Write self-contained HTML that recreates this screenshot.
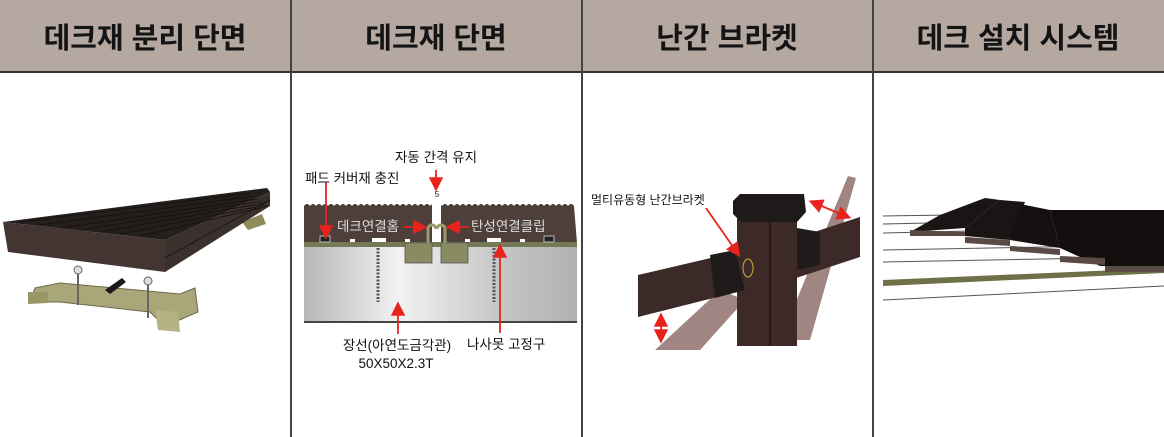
<!DOCTYPE html>
<html><head><meta charset="utf-8"><style>
html,body{margin:0;padding:0;background:#fff;}
body{width:1164px;height:437px;overflow:hidden;position:relative;font-family:"Liberation Sans","Noto Sans CJK KR",sans-serif;}
svg{position:absolute;left:0;top:0;}
.h{font-family:"Liberation Sans","Noto Sans CJK KR",sans-serif;font-weight:bold;font-size:29px;fill:#141414;}
.l{font-family:"Liberation Sans","Noto Sans CJK KR",sans-serif;font-size:13.5px;fill:#111;}
</style></head><body>
<svg width="1164" height="437" viewBox="0 0 1164 437">
<defs>
<linearGradient id="metal" x1="0" x2="1" y1="0" y2="0">
<stop offset="0" stop-color="#b8b8b8"/><stop offset="0.35" stop-color="#f2f2f2"/><stop offset="0.7" stop-color="#c8c8c8"/><stop offset="1" stop-color="#b0b0b0"/></linearGradient>
<marker id="ar" markerWidth="8" markerHeight="8" refX="6" refY="4" orient="auto"><path d="M0,0 L8,4 L0,8 z" fill="#e8231c"/></marker>
<marker id="as" markerWidth="8" markerHeight="8" refX="2" refY="4" orient="auto"><path d="M8,0 L0,4 L8,8 z" fill="#e8231c"/></marker>
</defs>
<rect x="0" y="0" width="1164" height="72" fill="#b4a8a1"/>
<line x1="0" y1="72" x2="1164" y2="72" stroke="#333" stroke-width="2"/>
<g stroke="#444" stroke-width="2"><line x1="291" y1="0" x2="291" y2="437"/><line x1="582" y1="0" x2="582" y2="437"/><line x1="873" y1="0" x2="873" y2="437"/></g>
<text class="h" x="145" y="48" text-anchor="middle">데크재 분리 단면</text>
<text class="h" x="436" y="48" text-anchor="middle">데크재 단면</text>
<text class="h" x="727" y="48" text-anchor="middle">난간 브라켓</text>
<text class="h" x="1018" y="48" text-anchor="middle">데크 설치 시스템</text>

<!-- col1 -->
<polygon points="242,222 262,214 266,224 248,230" fill="#8f8c5c"/>
<polygon points="3,222 267,188 270,192 165,240" fill="#241e1c"/>
<polygon points="165,240 270,192 270,206 165,272" fill="#3a302c"/>
<polygon points="3,222 165,240 165,272 8,252" fill="#433532"/>
<line x1="165" y1="258" x2="270" y2="200" stroke="#1c1615" stroke-width="1"/>
<g stroke="#15100f" stroke-width="0.8">
<line x1="20" y1="222" x2="250" y2="193"/><line x1="40" y1="225" x2="255" y2="196"/><line x1="60" y1="228" x2="258" y2="199"/><line x1="80" y1="230" x2="262" y2="201"/><line x1="100" y1="232" x2="264" y2="203"/><line x1="120" y1="234" x2="266" y2="205"/><line x1="140" y1="236" x2="268" y2="206"/></g>
<polygon points="35,288 60,283 180,294 195,288 198,312 175,322 160,322 150,312 60,302 30,302" fill="#a9a77a" stroke="#6b6946" stroke-width="1"/>
<polygon points="155,310 178,312 180,332 158,330" fill="#b5b286"/>
<polygon points="28,292 48,292 48,303 28,304" fill="#999766"/>
<polygon points="105,290 122,278 126,282 110,294" fill="#1e1a19"/>
<line x1="78" y1="268" x2="78" y2="305" stroke="#666" stroke-width="2"/><circle cx="78" cy="270" r="4" fill="#ddd" stroke="#666"/>
<line x1="148" y1="280" x2="148" y2="318" stroke="#666" stroke-width="2"/><circle cx="148" cy="281" r="4" fill="#ddd" stroke="#666"/>

<!-- col2 -->
<rect x="304" y="247" width="273" height="75" fill="url(#metal)"/>
<line x1="304" y1="322" x2="577" y2="322" stroke="#444" stroke-width="2"/>
<path d="M304,206 q3,-4 6,0 q3,-4 6,0 q3,-4 6,0 q3,-4 6,0 q3,-4 6,0 q3,-4 6,0 q3,-4 6,0 q3,-4 6,0 q3,-4 6,0 q3,-4 6,0 q3,-4 6,0 q3,-4 6,0 q3,-4 6,0 q3,-4 6,0 q3,-4 6,0 q3,-4 6,0 q3,-4 6,0 q3,-4 6,0 q3,-4 6,0 q3,-4 6,0 q3,-4 6,0 q3,-4 6,0 q3,-4 6,0 q3,-4 6,0 q3,-4 6,0 q3,-4 6,0 q3,-4 6,0 q3,-4 6,0 q3,-4 6,0 q3,-4 6,0 q3,-4 6,0 q3,-4 6,0 q3,-4 6,0 q3,-4 6,0 q3,-4 6,0 q3,-4 6,0 q3,-4 6,0 q3,-4 6,0 q3,-4 6,0 q3,-4 6,0 q3,-4 6,0 q3,-4 6,0 q3,-4 6,0 q3,-4 6,0 q3,-4 6,0 L577,243 L304,243 z" fill="#4e3f3b"/>
<rect x="432" y="200" width="9" height="44" fill="#fff"/>
<rect x="304" y="242" width="273" height="5" fill="#737a55"/>
<rect x="405" y="243" width="27" height="20" fill="#8a8b62" stroke="#555" stroke-width="0.8"/>
<rect x="441" y="243" width="27" height="20" fill="#8a8b62" stroke="#555" stroke-width="0.8"/>
<path d="M428,243 v-14 a4,4 0 0 1 8,0" fill="none" stroke="#9a9b6c" stroke-width="3"/>
<path d="M445,243 v-14 a4,4 0 0 0 -8,0" fill="none" stroke="#9a9b6c" stroke-width="3"/>
<g fill="#fff"><rect x="350" y="239" width="5" height="3"/><rect x="405" y="239" width="5" height="3"/><rect x="465" y="239" width="5" height="3"/><rect x="520" y="239" width="5" height="3"/><rect x="372" y="238" width="14" height="4"/><rect x="487" y="238" width="14" height="4"/></g>
<rect x="320" y="236" width="10" height="6" fill="#222" stroke="#bbb" stroke-width="1"/><rect x="544" y="236" width="10" height="6" fill="#222" stroke="#bbb" stroke-width="1"/>
<g stroke="#555" stroke-width="3" stroke-dasharray="2,1.5"><line x1="378" y1="248" x2="378" y2="302"/><line x1="494" y1="248" x2="494" y2="302"/></g>
<text class="l" x="436" y="162" text-anchor="middle">자동 간격 유지</text>
<text class="l" x="305" y="183">패드 커버재 충진</text>
<text class="l" x="337" y="231" style="fill:#ddd">데크연결홈</text>
<text class="l" x="471" y="231" style="fill:#ddd">탄성연결클립</text>
<text class="l" x="397" y="350" text-anchor="middle">장선(아연도금각관)</text>
<text class="l" x="396" y="368" text-anchor="middle">50X50X2.3T</text>
<text class="l" x="467" y="349">나사못 고정구</text>
<text x="437" y="197" font-size="8" text-anchor="middle" fill="#111" font-family="Liberation Sans">5</text>
<g stroke="#e8231c" stroke-width="1.8" fill="none">
<line x1="436" y1="170" x2="436" y2="188" marker-end="url(#ar)"/>
<polyline points="326,182 326,236" marker-end="url(#ar)"/>
<line x1="404" y1="227" x2="424" y2="227" marker-end="url(#ar)"/>
<line x1="469" y1="227" x2="449" y2="227" marker-end="url(#ar)"/>
<line x1="398" y1="334" x2="398" y2="305" marker-end="url(#ar)"/>
<line x1="500" y1="333" x2="500" y2="247" marker-end="url(#ar)"/>
</g>

<!-- col3 -->
<polygon points="780,340 810,340 856,178 848,176" fill="#a08583"/>
<polygon points="655,350 700,350 745,300 720,290" fill="#a08583"/>
<polygon points="638,275 745,250 745,290 638,317" fill="#3b2a27"/>
<polygon points="790,240 860,217 860,257 790,280" fill="#3b2a27"/>
<rect x="737" y="210" width="60" height="136" fill="#3d2a26"/>
<line x1="770" y1="215" x2="770" y2="346" stroke="#1e1413" stroke-width="1.5"/>
<polygon points="733,201 740,194 804,194 806,212 797,222 741,222 733,214" fill="#1d1a19"/>
<polygon points="710,255 735,250 745,290 715,298" fill="#1f1b1a"/>
<polygon points="797,228 820,232 820,265 797,270" fill="#1f1b1a"/>
<ellipse cx="748" cy="268" rx="5" ry="9" fill="none" stroke="#c9b038" stroke-width="1"/>
<text class="l" x="591" y="204" style="font-size:12px">멀티유동형 난간브라켓</text>
<g stroke="#e8231c" stroke-width="1.8" fill="none">
<line x1="706" y1="208" x2="738" y2="254" marker-end="url(#ar)"/>
<line x1="812" y1="202" x2="848" y2="217" marker-end="url(#ar)" marker-start="url(#as)"/>
<line x1="661" y1="316" x2="661" y2="340" marker-end="url(#ar)" marker-start="url(#as)"/>
</g>

<!-- col4 -->
<g stroke="#555" stroke-width="1" fill="none">
<line x1="883" y1="216" x2="1164" y2="212"/><line x1="883" y1="224" x2="1164" y2="218"/>
<line x1="883" y1="233" x2="1100" y2="228"/><line x1="883" y1="250" x2="1100" y2="246"/>
<line x1="883" y1="262" x2="1100" y2="258"/>
<line x1="883" y1="300" x2="1164" y2="286"/>
</g>
<polygon points="883,280 1164,268 1164,273 883,286" fill="#6f7047"/>
<polygon points="940,215 985,198 1000,200 965,228 910,232" fill="#1a1414"/>
<polygon points="965,228 1000,200 1025,202 1010,240 965,236" fill="#1a1414"/>
<polygon points="1010,240 1020,204 1050,210 1060,248" fill="#161111"/>
<polygon points="1050,210 1164,210 1164,266 1100,266 1060,248" fill="#120e0e"/>
<polygon points="910,230 965,232 965,236 910,236" fill="#5a4a45"/>
<polygon points="965,237 1010,240 1010,246 965,243" fill="#5a4a45"/>
<polygon points="1010,246 1060,249 1060,255 1010,251" fill="#5a4a45"/>
<polygon points="1060,256 1105,258 1105,265 1060,262" fill="#5a4a45"/>
<polygon points="1105,266 1164,266 1164,272 1105,272" fill="#5a4a45"/>
</svg>
</body></html>
